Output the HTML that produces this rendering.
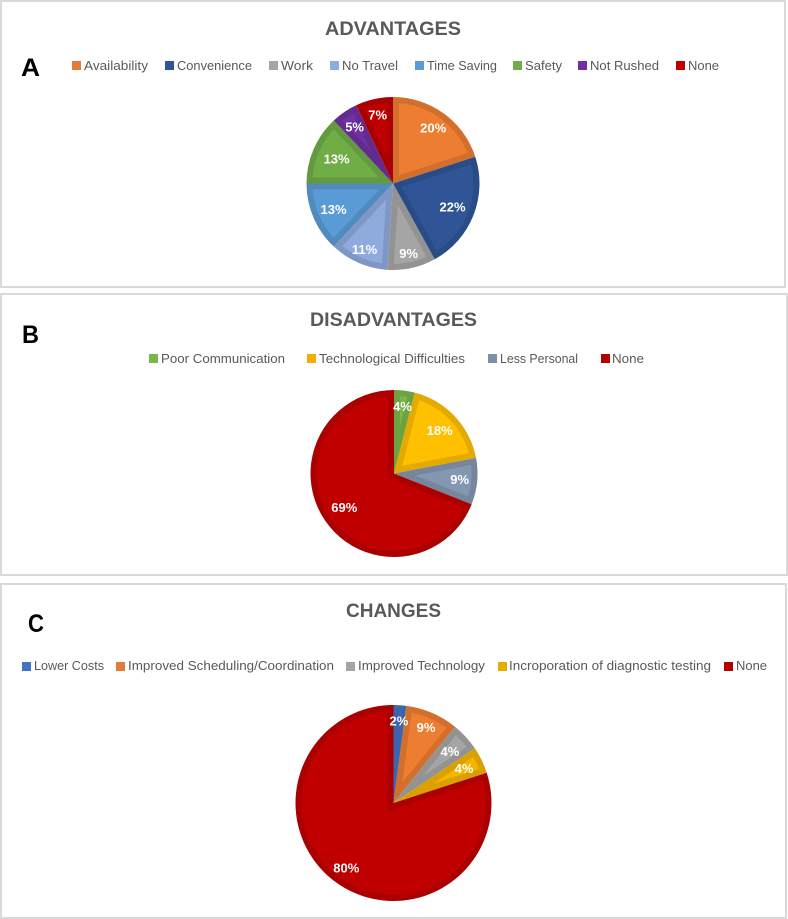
<!DOCTYPE html>
<html lang="en">
<head>
<meta charset="utf-8">
<title>Advantages, Disadvantages and Changes</title>
<style>
html,body{margin:0;padding:0;background:#fff;width:788px;height:919px;overflow:hidden}
svg{display:block;font-family:"Liberation Sans",sans-serif;filter:blur(0.35px)}
.panel{fill:#fff;stroke:#d9d9d9;stroke-width:2}
.title{font-size:19px;font-weight:bold;fill:#595959;text-anchor:middle}
.letter{font-size:25px;font-weight:bold;fill:#000}
.lg{font-size:13px;fill:#595959}
.pct{font-size:13px;font-weight:bold;fill:#fff;text-anchor:middle}
</style>
</head>
<body>
<svg id="figure" width="788" height="919" viewBox="0 0 788 919" xmlns="http://www.w3.org/2000/svg">

<rect class="panel" x="1" y="1" width="784" height="286"/>
<rect class="panel" x="1" y="294" width="786" height="281"/>
<rect class="panel" x="1" y="584" width="785" height="334"/>

<text class="letter" x="21" y="76" textLength="19" lengthAdjust="spacingAndGlyphs">A</text>
<text class="letter" x="22" y="343" textLength="17" lengthAdjust="spacingAndGlyphs">B</text>
<text class="letter" x="28" y="632" textLength="16" lengthAdjust="spacingAndGlyphs">C</text>

<text class="title" x="393" y="35" textLength="136" lengthAdjust="spacingAndGlyphs">ADVANTAGES</text>
<text class="title" x="393.500" y="326" textLength="167" lengthAdjust="spacingAndGlyphs">DISADVANTAGES</text>
<text class="title" x="393.500" y="617" textLength="95" lengthAdjust="spacingAndGlyphs">CHANGES</text>

<g>
  <g><rect x="72" y="61" width="9" height="9" fill="#e07b39"/><text class="lg" x="84" y="70" textLength="64" lengthAdjust="spacingAndGlyphs">Availability</text></g>
  <g><rect x="165" y="61" width="9" height="9" fill="#2f5597"/><text class="lg" x="177" y="70" textLength="75" lengthAdjust="spacingAndGlyphs">Convenience</text></g>
  <g><rect x="269" y="61" width="9" height="9" fill="#a5a5a5"/><text class="lg" x="281" y="70" textLength="32" lengthAdjust="spacingAndGlyphs">Work</text></g>
  <g><rect x="330" y="61" width="9" height="9" fill="#8faadc"/><text class="lg" x="342" y="70" textLength="56" lengthAdjust="spacingAndGlyphs">No Travel</text></g>
  <g><rect x="415" y="61" width="9" height="9" fill="#5b9bd5"/><text class="lg" x="427" y="70" textLength="70" lengthAdjust="spacingAndGlyphs">Time Saving</text></g>
  <g><rect x="513" y="61" width="9" height="9" fill="#70ad47"/><text class="lg" x="525" y="70" textLength="37" lengthAdjust="spacingAndGlyphs">Safety</text></g>
  <g><rect x="578" y="61" width="9" height="9" fill="#7030a0"/><text class="lg" x="590" y="70" textLength="69" lengthAdjust="spacingAndGlyphs">Not Rushed</text></g>
  <g><rect x="676" y="61" width="9" height="9" fill="#c00000"/><text class="lg" x="688" y="70" textLength="31" lengthAdjust="spacingAndGlyphs">None</text></g>
</g>

<g>
  <g><rect x="149" y="354" width="9" height="9" fill="#7ab648"/><text class="lg" x="161" y="363" textLength="124" lengthAdjust="spacingAndGlyphs">Poor Communication</text></g>
  <g><rect x="307" y="354" width="9" height="9" fill="#f0b000"/><text class="lg" x="319" y="363" textLength="146" lengthAdjust="spacingAndGlyphs">Technological Difficulties</text></g>
  <g><rect x="488" y="354" width="9" height="9" fill="#7f8fa9"/><text class="lg" x="500" y="363" textLength="78" lengthAdjust="spacingAndGlyphs">Less Personal</text></g>
  <g><rect x="601" y="354" width="9" height="9" fill="#b00000"/><text class="lg" x="612" y="363" textLength="32" lengthAdjust="spacingAndGlyphs">None</text></g>
</g>

<g>
  <g><rect x="22" y="662" width="9" height="9" fill="#4472c4"/><text class="lg" x="34" y="670" textLength="70" lengthAdjust="spacingAndGlyphs">Lower Costs</text></g>
  <g><rect x="116" y="662" width="9" height="9" fill="#e07b39"/><text class="lg" x="128" y="670" textLength="206" lengthAdjust="spacingAndGlyphs">Improved Scheduling/Coordination</text></g>
  <g><rect x="346" y="662" width="9" height="9" fill="#a5a5a5"/><text class="lg" x="358" y="670" textLength="127" lengthAdjust="spacingAndGlyphs">Improved Technology</text></g>
  <g><rect x="498" y="662" width="9" height="9" fill="#e8ac00"/><text class="lg" x="509" y="670" textLength="202" lengthAdjust="spacingAndGlyphs">Incroporation of diagnostic testing</text></g>
  <g><rect x="724" y="662" width="9" height="9" fill="#b00000"/><text class="lg" x="736" y="670" textLength="31" lengthAdjust="spacingAndGlyphs">None</text></g>
</g>

<g id="pie-a"></g>
<g id="pie-b"></g>
<g id="pie-c"></g>
</svg>

<script>
const advantagesCategories = ['availability', 'convenience', 'work', 'no-travel', 'time-saving', 'safety', 'not-rushed', 'none'];
const advantagesValues = [20, 22, 9, 11, 13, 13, 5, 7];
const advantagesLabels = ['20%', '22%', '9%', '11%', '13%', '13%', '5%', '7%'];
const advantagesColors = ['#ed7d31', '#2f5597', '#a5a5a5', '#8faadc', '#5b9bd5', '#70ad47', '#7030a0', '#c00000'];

const disadvantagesCategories = ['poor-communication', 'technological-difficulties', 'less-personal', 'none'];
const disadvantagesValues = [4, 18, 9, 69];
const disadvantagesLabels = ['4%', '18%', '9%', '69%'];
const disadvantagesColors = ['#7ab648', '#ffc000', '#8497b0', '#c00000'];

const changesCategories = ['lower-costs', 'improved-scheduling', 'improved-technology', 'diagnostic-testing', 'none'];
const changesValues = [2.1, 8.7, 4.8, 4.4, 80];
const changesLabels = ['2%', '9%', '4%', '4%', '80%'];
const changesColors = ['#4472c4', '#ed7d31', '#a5a5a5', '#f4b400', '#c00000'];

const SVG_NS = 'http://www.w3.org/2000/svg';

function darken(hex, factor) {
  const n = parseInt(hex.slice(1), 16);
  const channel = function (shift) {
    return Math.round(((n >> shift) & 255) * factor);
  };
  return 'rgb(' + channel(16) + ',' + channel(8) + ',' + channel(0) + ')';
}

function polar(cx, cy, r, angle) {
  return [cx + r * Math.sin(angle), cy - r * Math.cos(angle)];
}

function arcPath(start, end, r, cx, cy, apex) {
  const a = polar(cx, cy, r, start);
  const b = polar(cx, cy, r, end);
  const large = end - start > Math.PI ? 1 : 0;
  return 'M' + apex[0].toFixed(2) + ' ' + apex[1].toFixed(2) +
    'L' + a[0].toFixed(2) + ' ' + a[1].toFixed(2) +
    'A' + r + ' ' + r + ' 0 ' + large + ' 1 ' + b[0].toFixed(2) + ' ' + b[1].toFixed(2) + 'Z';
}

function drawPie(groupId, categories, values, labels, colors, cx, cy, r, inset, labelReach) {
  const group = document.getElementById(groupId);
  const total = values.reduce(function (s, v) { return s + v; }, 0);
  let cursor = 0;
  const labelNodes = [];
  values.forEach(function (value, i) {
    const start = cursor / total * 2 * Math.PI;
    cursor += value;
    const end = cursor / total * 2 * Math.PI;
    const mid = (start + end) / 2;
    const half = (end - start) / 2;

    const outer = document.createElementNS(SVG_NS, 'path');
    
    
    outer.setAttribute('d', arcPath(start, end, r, cx, cy, [cx, cy]));
    outer.setAttribute('fill', darken(colors[i], 0.89));
    group.appendChild(outer);

    const innerR = r - inset;
    const apexDist = inset / Math.sin(half);
    if (apexDist < innerR) {
      const delta = Math.asin(inset / innerR);
      const inner = document.createElementNS(SVG_NS, 'path');
      
      
      inner.setAttribute('d', arcPath(start + delta, end - delta, innerR, cx, cy, polar(cx, cy, apexDist, mid)));
      inner.setAttribute('fill', colors[i]);
      group.appendChild(inner);
    }

    const pos = polar(cx, cy, r * labelReach[i], mid);
    const text = document.createElementNS(SVG_NS, 'text');
    
    
    text.setAttribute('class', 'pct');
    text.setAttribute('x', pos[0].toFixed(1));
    text.setAttribute('y', (pos[1] + 4.5).toFixed(1));
    text.textContent = labels[i];
    labelNodes.push(text);
  });
  labelNodes.forEach(function (node) { group.appendChild(node); });
}

drawPie('pie-a', advantagesCategories, advantagesValues, advantagesLabels, advantagesColors, 393, 183.5, 86.5, 6, [0.79, 0.74, 0.83, 0.83, 0.75, 0.71, 0.79, 0.81]);
drawPie('pie-b', disadvantagesCategories, disadvantagesValues, disadvantagesLabels, disadvantagesColors, 394, 473.5, 83.5, 6, [0.81, 0.75, 0.79, 0.72]);
drawPie('pie-c', changesCategories, changesValues, changesLabels, changesColors, 393.5, 803, 98, 6, [0.84, 0.84, 0.78, 0.8, 0.82]);
</script>
</body>
</html>
